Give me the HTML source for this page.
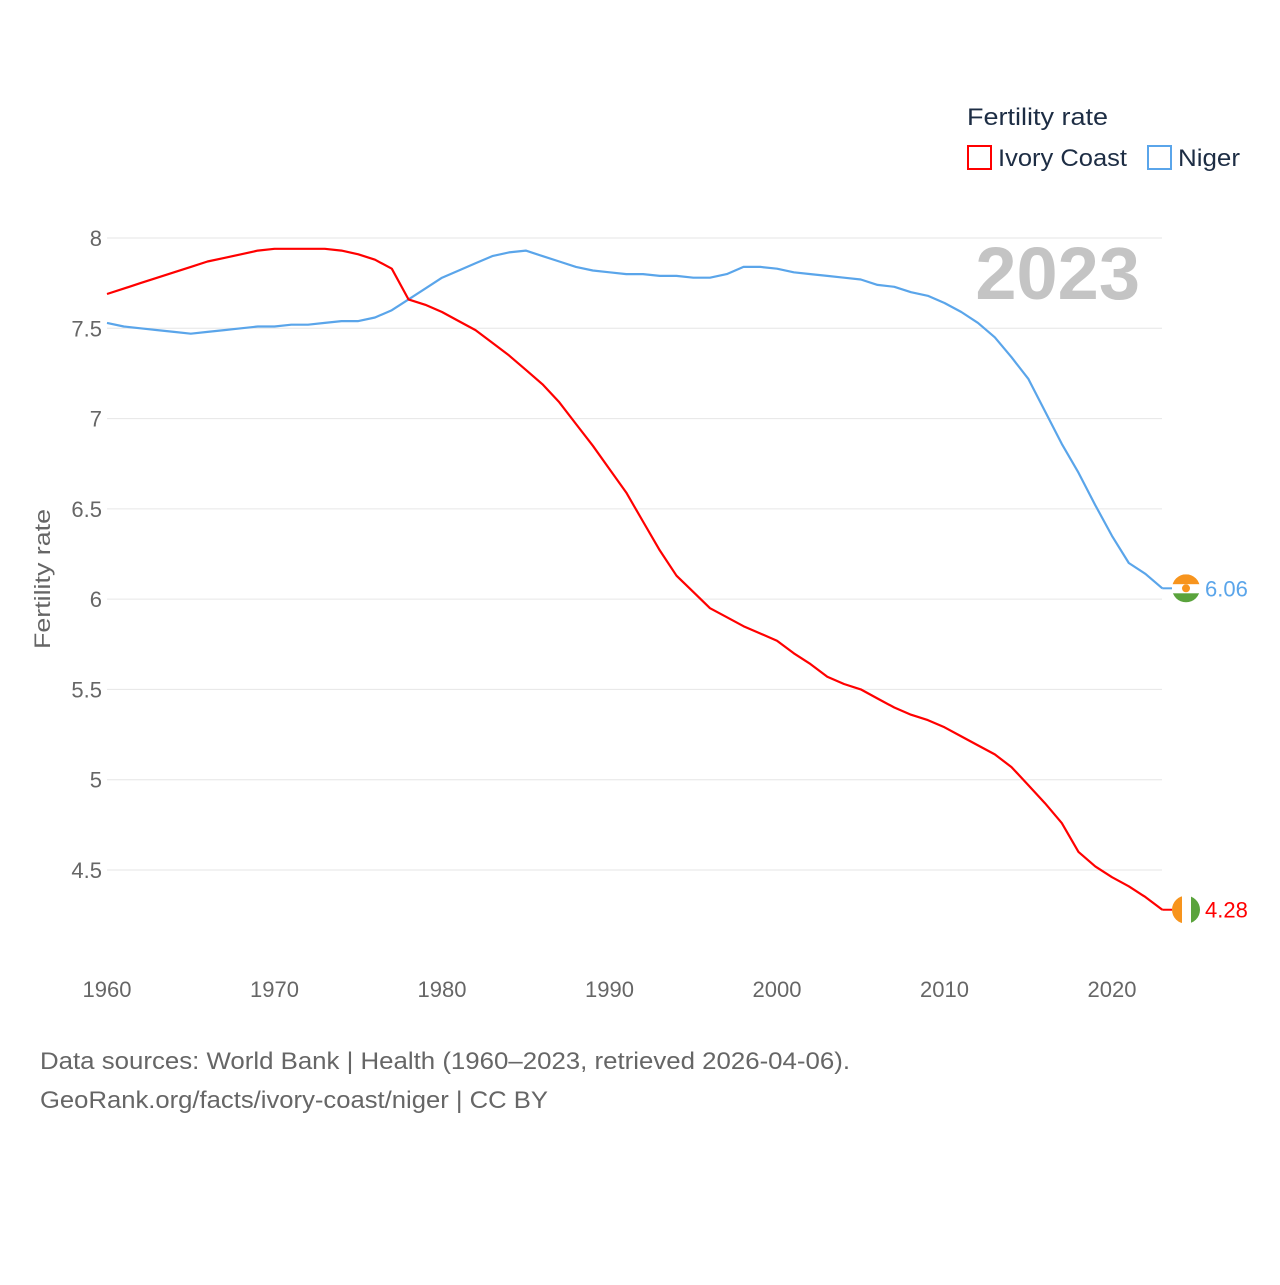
<!DOCTYPE html>
<html><head><meta charset="utf-8"><style>
body{margin:0;background:#fff;font-family:"Liberation Sans",sans-serif;}
svg text{font-family:"Liberation Sans",sans-serif;}
</style></head><body>
<svg id="chart" width="1280" height="1280" viewBox="0 0 1280 1280" xmlns="http://www.w3.org/2000/svg">
<g id="grid"></g>
<g id="yticks"></g>
<g id="xticks"></g>
<text x="50" y="579" transform="rotate(-90 50 579)" text-anchor="middle" font-size="22" fill="#666" textLength="140" lengthAdjust="spacingAndGlyphs">Fertility rate</text>
<text x="1140" y="299" text-anchor="end" font-size="74" font-weight="bold" fill="#c4c4c4">2023</text>
<g>
<text x="967" y="125" font-size="24" fill="#1d2d44" textLength="141" lengthAdjust="spacingAndGlyphs">Fertility rate</text>
<g><rect x="968" y="146" width="23" height="23" fill="none" stroke="#f00" stroke-width="2"/><text x="998" y="166" font-size="24" fill="#1d2d44" textLength="129" lengthAdjust="spacingAndGlyphs">Ivory Coast</text></g>
<g><rect x="1148" y="146" width="23" height="23" fill="none" stroke="#5aa5ea" stroke-width="2"/><text x="1178" y="166" font-size="24" fill="#1d2d44" textLength="62" lengthAdjust="spacingAndGlyphs">Niger</text></g>
</g>
<g id="series"></g>
<text x="40" y="1069" font-size="24" fill="#666" textLength="810" lengthAdjust="spacingAndGlyphs">Data sources: World Bank | Health (1960–2023, retrieved 2026-04-06).</text>
<text x="40" y="1108" font-size="24" fill="#666" textLength="508" lengthAdjust="spacingAndGlyphs">GeoRank.org/facts/ivory-coast/niger | CC BY</text>
</svg>
<script>
const years=[];for(let y=1960;y<=2023;y++)years.push(y);
const ivoryCoast=[7.69,7.72,7.75,7.78,7.81,7.84,7.87,7.89,7.91,7.93,7.94,7.94,7.94,7.94,7.93,7.91,7.88,7.83,7.66,7.63,7.59,7.54,7.49,7.42,7.35,7.27,7.19,7.09,6.97,6.85,6.72,6.59,6.43,6.27,6.13,6.04,5.95,5.90,5.85,5.81,5.77,5.70,5.64,5.57,5.53,5.50,5.45,5.40,5.36,5.33,5.29,5.24,5.19,5.14,5.07,4.97,4.87,4.76,4.60,4.52,4.46,4.41,4.35,4.28];
const niger=[7.53,7.51,7.50,7.49,7.48,7.47,7.48,7.49,7.50,7.51,7.51,7.52,7.52,7.53,7.54,7.54,7.56,7.60,7.66,7.72,7.78,7.82,7.86,7.90,7.92,7.93,7.90,7.87,7.84,7.82,7.81,7.80,7.80,7.79,7.79,7.78,7.78,7.80,7.84,7.84,7.83,7.81,7.80,7.79,7.78,7.77,7.74,7.73,7.70,7.68,7.64,7.59,7.53,7.45,7.34,7.22,7.04,6.86,6.70,6.52,6.35,6.20,6.14,6.06];
const yTicks=[4.5,5,5.5,6,6.5,7,7.5,8];
const xTicks=[1960,1970,1980,1990,2000,2010,2020];
const NS="http://www.w3.org/2000/svg";
const X=y=>107+(y-1960)*(1005/60);
const Y=v=>238+(8-v)*(632/3.5);
function mk(t,a,p){const e=document.createElementNS(NS,t);for(const k in a)e.setAttribute(k,a[k]);p.appendChild(e);return e;}
const grid=document.getElementById('grid'),yt=document.getElementById('yticks'),xt=document.getElementById('xticks'),ser=document.getElementById('series');
yTicks.forEach(v=>{
 const l=mk('line',{x1:107,x2:1162,y1:Y(v),y2:Y(v),stroke:'#e6e6e6','stroke-width':1},grid);
 
 
 const t=mk('text',{x:102,y:Y(v)+8,'text-anchor':'end','font-size':22,fill:'#666'},yt);
 t.textContent=String(v);
 
 
});
xTicks.forEach(v=>{
 const t=mk('text',{x:X(v),y:997,'text-anchor':'middle','font-size':22,fill:'#666'},xt);
 t.textContent=String(v);
 
 
});
function line(vals,color,name){
 const d=vals.map((v,i)=>(i?'L':'M')+X(years[i]).toFixed(1)+','+Y(v).toFixed(1)).join('');
 const p=mk('path',{d:d,fill:'none',stroke:color,'stroke-width':2.2,'stroke-linejoin':'round'},ser);
 
 
}
line(niger,'#5aa5ea','line-niger');
line(ivoryCoast,'#f00','line-ivory-coast');
function endLabel(v,color,name,flag){
 const cx=1186,cy=Y(v);
 mk('line',{x1:X(2023),x2:cx-14,y1:cy,y2:cy,stroke:color,'stroke-width':2},ser);
 const g=mk('g',{},ser);
 
 
 const cp='cp'+name;
 const c=mk('clipPath',{id:cp},g);mk('circle',{cx:cx,cy:cy,r:14},c);
 const gg=mk('g',{'clip-path':'url(#'+cp+')'},g);
 if(flag==='ne'){
  mk('rect',{x:cx-14,y:cy-14,width:28,height:10,fill:'#f7941d'},gg);
  mk('rect',{x:cx-14,y:cy-4,width:28,height:9,fill:'#fff'},gg);
  mk('rect',{x:cx-14,y:cy+5,width:28,height:10,fill:'#5aa33c'},gg);
  mk('circle',{cx:cx,cy:cy,r:4,fill:'#f7941d'},gg);
 }else{
  mk('rect',{x:cx-14,y:cy-14,width:10,height:28,fill:'#f7941d'},gg);
  mk('rect',{x:cx-4,y:cy-14,width:9,height:28,fill:'#fff'},gg);
  mk('rect',{x:cx+5,y:cy-14,width:10,height:28,fill:'#5aa33c'},gg);
 }
 const t=mk('text',{x:1205,y:cy+8,'font-size':22,fill:color},ser);
 t.textContent=v.toFixed(2);
 
 
}
endLabel(niger[niger.length-1],'#5aa5ea','niger','ne');
endLabel(ivoryCoast[ivoryCoast.length-1],'#f00','ivory-coast','ci');
</script>
</body></html>
